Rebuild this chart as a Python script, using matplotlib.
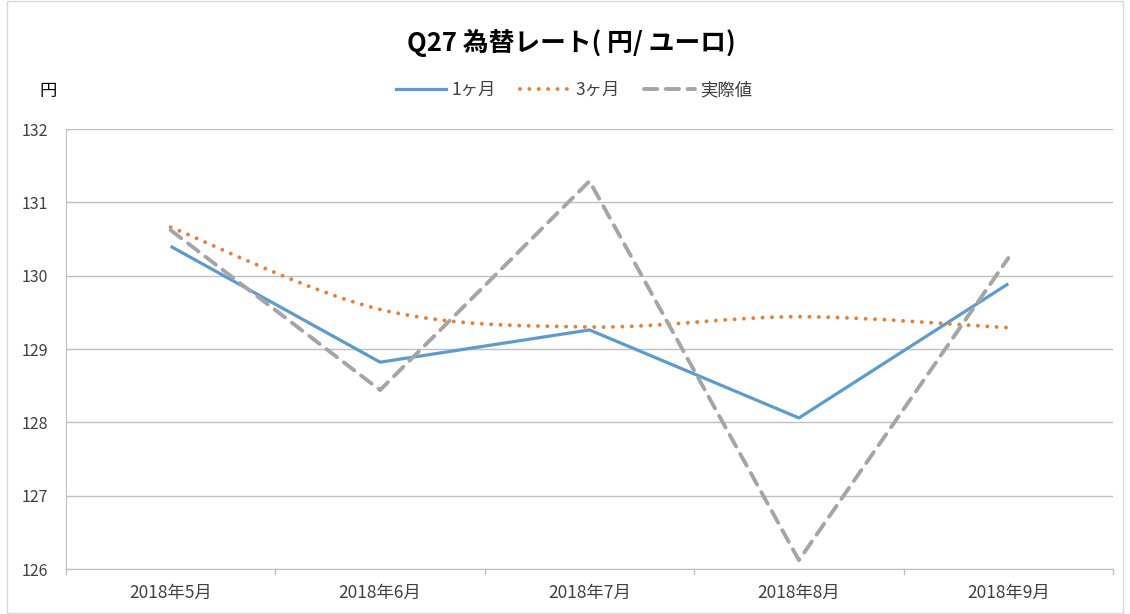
import matplotlib
matplotlib.use("Agg")
import matplotlib.pyplot as plt
from matplotlib.path import Path
from matplotlib.patches import PathPatch
from matplotlib.lines import Line2D
import numpy as np

plt.rcParams['font.family'] = ['Noto Sans CJK JP', 'DejaVu Sans']

categories = ["2018年5月", "2018年6月", "2018年7月", "2018年8月", "2018年9月"]
one_month = [130.40, 128.82, 129.26, 128.06, 129.89]
three_month = [130.66, 129.54, 129.30, 129.44, 129.29]
actual = [130.62, 128.44, 131.29, 126.12, 130.24]
series_names = ["1ヶ月", "3ヶ月", "実際値"]
title = "Q27 為替レート( 円/ ユーロ)"
y_unit = "円"

c_blue = "#5B9BD5"
c_orange = "#ED7D31"
c_gray = "#A5A5A5"

fig = plt.figure(figsize=(11.3, 6.14), dpi=100)
ax = fig.add_axes([66/1130, 1-569/614, (1113-66)/1130, (569-129)/614])

x = np.arange(len(categories))

# 1ヶ月 straight
ax.plot(x, one_month, color=c_blue, lw=2.3, solid_capstyle='butt', zorder=3)

# 3ヶ月 smoothed (Excel-like Catmull-Rom Bezier)
pts = np.column_stack([x, three_month]).astype(float)
verts = [tuple(pts[0])]
codes = [Path.MOVETO]
n = len(pts)
for i in range(n - 1):
    p0 = pts[i - 1] if i > 0 else pts[i]
    p1 = pts[i]
    p2 = pts[i + 1]
    p3 = pts[i + 2] if i + 2 < n else pts[i + 1]
    c1 = p1 + (p2 - p0) / 6.0
    c2 = p2 - (p3 - p1) / 6.0
    verts += [tuple(c1), tuple(c2), tuple(p2)]
    codes += [Path.CURVE4] * 3
patch = PathPatch(Path(verts, codes), facecolor='none', edgecolor=c_orange,
                  lw=2.8, linestyle=(0, (0.01, 2.4)), capstyle='round', zorder=3)
ax.add_patch(patch)

# 実際値 dashed
ax.plot(x, actual, color=c_gray, lw=2.8, linestyle=(0, (3.4, 2.2)),
        dash_capstyle='round', zorder=3)

ax.set_xlim(-0.5, len(categories) - 0.5)
ax.set_ylim(126, 132)
ax.set_yticks(np.arange(126, 133, 1))
ax.set_yticklabels([str(v) for v in range(126, 133)], fontsize=11.5, color="#404040")
ax.set_xticks(x)
ax.set_xticklabels(categories, fontsize=12.5, color="#404040")
ax.tick_params(axis='x', length=0, pad=11)
ax.tick_params(axis='y', length=0, pad=13)
for b in np.arange(-0.5, len(categories), 1.0):
    ax.plot([b, b], [0, -0.012], transform=ax.get_xaxis_transform(), color="#bfbfbf",
            lw=1, clip_on=False)

ax.grid(axis='y', color="#bfbfbf", lw=1)
ax.set_axisbelow(True)
for s in ['top', 'right']:
    ax.spines[s].set_visible(False)
ax.spines['left'].set_color("#bfbfbf")
ax.spines['bottom'].set_color("#bfbfbf")

fig.text(571/1130, 1-43/614, title, ha='center', va='center', fontsize=18.5,
         fontweight='bold', color="#000000")
fig.text(48/1130, 1-91/614, y_unit, ha='center', va='center', fontsize=12.5, color="#000000")

handles = [
    Line2D([], [], color=c_blue, lw=2.3),
    Line2D([], [], color=c_orange, lw=2.8, linestyle=(0, (0.01, 2.4)), dash_capstyle='round'),
    Line2D([], [], color=c_gray, lw=2.8, linestyle=(0, (3.4, 2.2)), dash_capstyle='round'),
]
fig.legend(handles, series_names, loc='center', bbox_to_anchor=(574/1130, 1-90/614),
           ncol=3, frameon=False, fontsize=12.5, handlelength=2.9, handletextpad=0.3,
           columnspacing=1.4, labelcolor="#404040")

# outer chart border
fig.add_artist(plt.Rectangle((7/1130, 0.002), 1-14/1130, 0.996, transform=fig.transFigure,
                             fill=False, edgecolor="#d9d9d9", lw=1))

fig.savefig("out.png", dpi=100, facecolor="white")
